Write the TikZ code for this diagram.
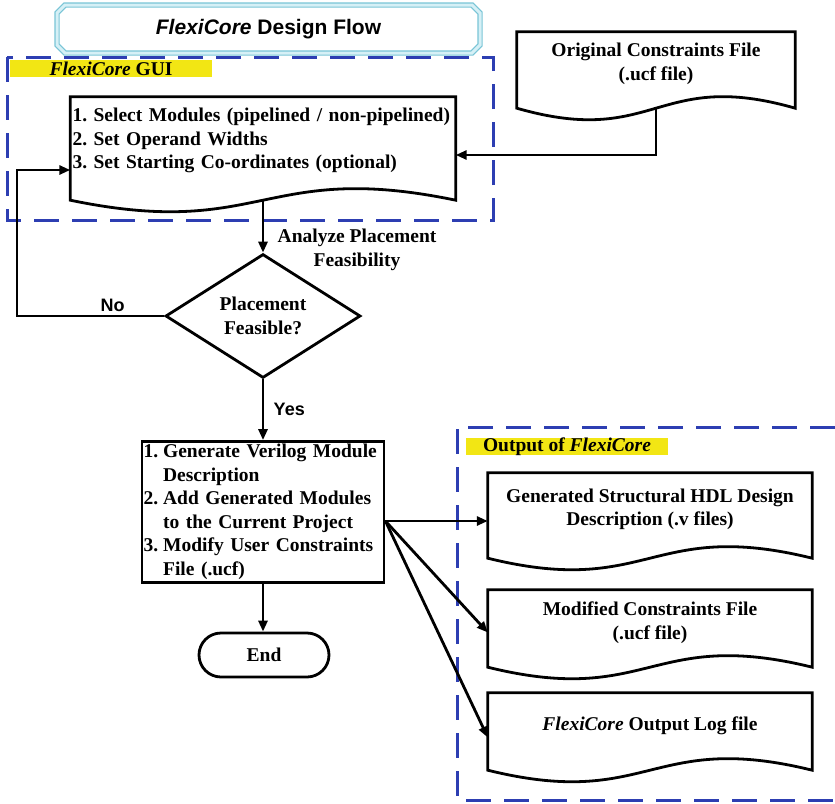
\documentclass[tikz,border=0pt]{standalone}
\usepackage{fontspec}
\setmainfont{Liberation Serif}
\setsansfont{Liberation Sans}
\usetikzlibrary{shapes.geometric,shapes.misc,arrows.meta}

\definecolor{areablue}{RGB}{45,62,178}
\definecolor{tagyellow}{RGB}{242,230,20}
\definecolor{framecol}{RGB}{120,196,214}
\definecolor{framefill}{RGB}{214,240,246}

\newcommand{\bodyfont}{\fontsize{19.5}{23.5}\selectfont\bfseries\frenchspacing}
\newcommand{\headfont}{\fontsize{21}{24}\selectfont\sffamily\bfseries}
\newcommand{\answerfont}{\fontsize{18}{22}\selectfont\sffamily\bfseries}

\tikzset{
    flow/.style={line width=2.8pt, -{Triangle[length=11pt,width=9pt]}},
    docnode/.style={inner sep=0pt, font=\bodyfont, align=center},
    docline/.style={line width=2.8pt, fill=white, line join=miter},
    area/.style={draw=areablue, line width=3pt, dash pattern=on 25pt off 13pt},
    tag/.style={fill=tagyellow, inner sep=0pt, font=\bodyfont},
    titlebox/.style={chamfered rectangle, chamfered rectangle xsep=4pt, chamfered rectangle ysep=4pt,
        draw=framecol, double=framefill, double distance=3pt, line width=1.2pt, font=\headfont},
    procbox/.style={draw, line width=2.8pt, fill=white, inner sep=0pt, font=\bodyfont},
    decision/.style={diamond, draw, line width=2.8pt, fill=white, inner sep=0pt, font=\bodyfont, align=center},
    terminal/.style={draw, line width=2.8pt, rounded corners=22pt, inner sep=0pt, font=\bodyfont},
    note/.style={font=\bodyfont, align=center},
    answer/.style={font=\answerfont}
}

\begin{document}
\begin{tikzpicture}[x=1pt, y=-1pt]
    \useasboundingbox (0,0) rectangle (835,803);

    % title
    \node[titlebox, minimum width=423pt, minimum height=48pt] (title) at (268.5,29) {\textit{FlexiCore} Design Flow};

    % dashed areas
    \draw[area] (7,57) rectangle (493,220);
    \draw[area] (835,427) -- (457,427) -- (457,800) -- (835,800);
    \node[tag, minimum width=202pt, minimum height=17pt] (guitag) at (111,68.5) {\textit{FlexiCore} GUI};
    \node[tag, minimum width=202pt, minimum height=17pt] (outtag) at (567,446.5) {Output of \textit{FlexiCore}};

    % documents (text part, outline drawn below)
    \node[docnode, minimum width=385pt, minimum height=91pt] (gui) at (263,142.5) {};
    \node[docnode, minimum width=278pt, minimum height=64pt] (orig) at (656,64) {};
    \node[docnode, minimum width=324pt, minimum height=73pt] (out1) at (650,509.5) {};
    \node[docnode, minimum width=324pt, minimum height=65pt] (out2) at (650,622.5) {};
    \node[docnode, minimum width=324pt, minimum height=65pt] (out3) at (650,725.5) {};
    \foreach \n in {gui,orig,out1,out2,out3}
        \draw[docline] (\n.north west) -- (\n.north east) -- ([yshift=-12pt]\n.south east)
            .. controls ([yshift=28pt]\n.south) and ([yshift=-52pt]\n.south) .. ([yshift=-12pt]\n.south west) -- cycle;
    \node[docnode, text width=381pt, align=left] at ([yshift=2pt]gui) {1. Select Modules (pipelined / non-pipelined)\\2. Set Operand Widths\\3. Set Starting Co-ordinates (optional)};
    \node[docnode] at (orig) {Original Constraints File\\(.ucf file)};
    \node[docnode] at (out1) {Generated Structural HDL Design\\Description (.v files)};
    \node[docnode] at (out2) {Modified Constraints File\\(.ucf file)};
    \node[docnode] at (out3) {\textit{FlexiCore} Output Log file};

    % flow
    \node[decision, minimum width=195pt, minimum height=85pt] (feas) at (263,316) {Placement\\Feasible?};
    \node[procbox, minimum width=242pt, minimum height=140pt, text width=239pt, align=left] (proc) at (263,512) {%
        \begin{tabular}{@{}l@{\hspace{5pt}}l@{}}
        1. & Generate Verilog Module\\
           & Description\\
        2. & Add Generated Modules\\
           & to the Current Project\\
        3. & Modify User Constraints\\
           & File (.ucf)
        \end{tabular}};
    \node[terminal, minimum width=130pt, minimum height=44pt] (endn) at (264,655) {End};

    \coordinate (noturn) at (17,316);
    \coordinate (fan) at ([yshift=-9pt]proc.east);

    \draw[flow] ([yshift=-12pt]orig.south) |- ([yshift=-12.5pt]gui.east);
    \draw[flow] ([yshift=-12pt]gui.south) -- (feas.north);
    \node[note] (analyze) at (357,250) {Analyze Placement\\Feasibility};
    \draw[flow] (feas.west) -- node[answer, above, pos=0.35] {No} (noturn) |- ([yshift=-27.5pt]gui.west);
    \draw[flow] (feas.south) -- node[answer, right, xshift=6pt] {Yes} (proc.north);
    \draw[flow] (proc.south) -- (proc.south |- endn.north);
    \draw[flow] (fan) -- (fan -| out1.west);
    \draw[flow] (fan) -- ([yshift=-10pt]out2.west);
    \draw[flow] (fan) -- ([yshift=-12pt]out3.west);
\end{tikzpicture}
\end{document}
